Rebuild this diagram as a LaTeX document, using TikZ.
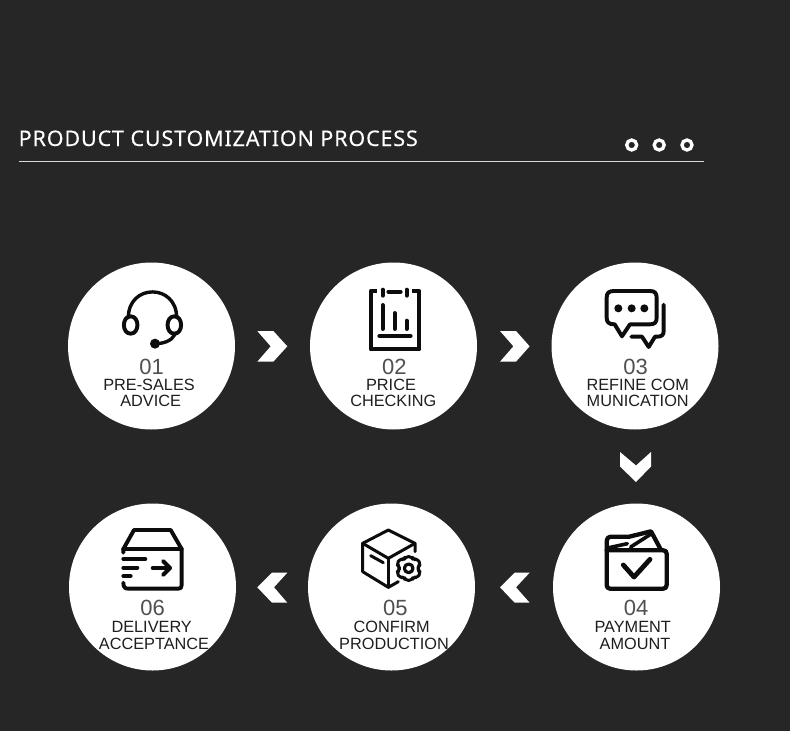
\documentclass[tikz,border=0pt]{standalone}
\usepackage{fontspec}
\setmainfont{Liberation Sans}
\newfontfamily\titlefont[LetterSpace=4,FakeBold=0.12]{Noto Sans}
\definecolor{bgc}{HTML}{262626}
\definecolor{ink}{HTML}{0C0C0C}
\definecolor{digit}{HTML}{505050}
\definecolor{labelc}{HTML}{1E1E1E}
\tikzset{
  disc/.style={circle,fill=white,draw=none,minimum size=167pt,inner sep=0pt},
  numtext/.style={anchor=base,font=\fontsize{22}{22}\selectfont,text=digit,inner sep=0pt},
  captext/.style={anchor=base,font=\fontsize{16.3}{16.3}\selectfont,text=labelc,inner sep=0pt},
  chev/.style={fill=white,draw=none},
  dotring/.style={circle,draw=white,line width=3.3pt,fill=none,minimum size=10pt,inner sep=0pt},
  icon/.style={draw=ink,line width=3.9pt,line cap=round,line join=round,fill=none},
  zoomed/.style={x=0.33333pt,y=-0.33333pt}
}
\begin{document}
\begin{tikzpicture}[x=1pt,y=-1pt]
\useasboundingbox (0,0) rectangle (790,731);
\fill[bgc] (0,0) rectangle (790,731);
% header
\node[anchor=base west,inner sep=0pt,text=white,font=\titlefont\fontsize{21.5}{21.5}\selectfont] (title) at (18.5,146) {PRODUCT CUSTOMIZATION PROCESS};
\coordinate (ruleL) at (19,161.7);
\coordinate (ruleR) at (704,161.7);
\draw[white!85!black,line width=1.3pt] (ruleL) -- (ruleR);
\node[dotring] (d1) at (631.7,145) {};
\node[dotring] (d2) at (659.2,145) {};
\node[dotring] (d3) at (687,145) {};
% discs
\node[disc] (c1) at (151.5,346) {};
\node[disc] (c2) at (393.5,346) {};
\node[disc] (c3) at (635,346) {};
\node[disc] (c4) at (636.5,587) {};
\node[disc] (c5) at (391.5,587) {};
\node[disc] (c6) at (152.5,587) {};
% chevrons
\fill[chev] (257.3,331) -- (273.3,331) -- (287.3,346.3) -- (273.3,361.7) -- (257.3,361.7) -- (270.7,346.3) -- cycle;
\fill[chev] (500,331) -- (516,331) -- (529.6,346.3) -- (516,361.7) -- (500,361.7) -- (513.4,346.3) -- cycle;
\fill[chev] (620,452) -- (636,465.5) -- (651,452) -- (651,466.5) -- (636,482) -- (620,466.5) -- cycle;
\fill[chev] (500,587.3) -- (514.7,572.7) -- (529.6,572.7) -- (516,587.3) -- (529.6,602.7) -- (514.7,602.7) -- cycle;
\fill[chev] (257.3,587.3) -- (272,572.7) -- (287.3,572.7) -- (274,587.3) -- (287.3,602.7) -- (272,602.7) -- cycle;
% labels
\node[numtext] (n1) at (151.7,374.5) {01};
\node[captext] (a1) at (149,390) {PRE-SALES};
\node[captext] (b1) at (150.7,406) {ADVICE};
\node[numtext] (n2) at (394.3,374.5) {02};
\node[captext] (a2) at (391,390) {PRICE};
\node[captext] (b2) at (393.3,406) {CHECKING};
\node[numtext] (n3) at (635.7,374.5) {03};
\node[captext] (a3) at (637.7,390) {REFINE COM};
\node[captext] (b3) at (637.7,406) {MUNICATION};
\node[numtext] (n4) at (636,615.5) {04};
\node[captext] (a4) at (632.7,632) {PAYMENT};
\node[captext] (b4) at (635,649.5) {AMOUNT};
\node[numtext] (n5) at (395.3,615.5) {05};
\node[captext] (a5) at (391.7,632) {CONFIRM};
\node[captext] (b5) at (394,649.5) {PRODUCTION};
\node[numtext] (n6) at (152.7,615.5) {06};
\node[captext] (a6) at (151.7,632) {DELIVERY};
\node[captext] (b6) at (154,649.5) {ACCEPTANCE};
% icon 01
\begin{scope}[shift={(60,255)},zoomed]
\draw[icon,line width=3.4pt] (205,188) .. controls (205,85) and (350,85) .. (350,188);
\draw[icon] (212,184) .. controls (185,184) and (185,236) .. (212,236) .. controls (239,236) and (239,184) .. (212,184) -- cycle;
\draw[icon] (343,184) .. controls (316,184) and (316,236) .. (343,236) .. controls (370,236) and (370,184) .. (343,184) -- cycle;
\draw[icon,line width=3.4pt] (345,238) .. controls (335,258) and (310,266) .. (285,266);
\fill[ink] (285,266) circle[radius=15];
\end{scope}
% icon 02
\begin{scope}[shift={(300,255)},zoomed]
\draw[icon,line cap=butt] (230,108) -- (212,108) -- (212,283) -- (358,283) -- (358,108) -- (337,108);
\draw[icon] (265,110) -- (302,110);
\draw[icon] (248,104) -- (248,122);
\draw[icon] (320,104) -- (320,122);
\draw[icon] (248,150) -- (248,222);
\draw[icon] (284,174) -- (284,222);
\draw[icon] (320,197) -- (320,222);
\draw[icon] (238,243) -- (332,243);
\end{scope}
% icon 03
\begin{scope}[shift={(540,255)},zoomed]
\draw[icon] (222,108) -- (330,108) .. controls (344,108) and (350,114) .. (350,128) -- (350,188) .. controls (350,202) and (344,208) .. (330,208) -- (270,208) -- (246,244) -- (224,208) .. controls (206,208) and (200,202) .. (200,188) -- (200,128) .. controls (200,114) and (206,108) .. (222,108) -- cycle;
\fill[ink] (235,160) circle[radius=12] (275,160) circle[radius=12] (313,160) circle[radius=12];
\draw[icon] (371,149) -- (371,228) .. controls (371,240) and (365,245) .. (352,245) -- (345,245) -- (326,276) -- (306,245) -- (274,245);
\end{scope}
% icon 04
\begin{scope}[shift={(540,500)},zoomed]
\draw[icon,line width=4.3pt] (200,151) -- (200,255) .. controls (200,262) and (204,266) .. (210,266) -- (370,266) .. controls (376,266) and (380,262) .. (380,255) -- (380,161) .. controls (380,155) and (376,151) .. (370,151) -- cycle;
\draw[icon,line width=4.3pt] (200,151) -- (200,126) .. controls (200,114) and (206,110) .. (216,110) -- (268,110) -- (333,94) -- (362,148);
\draw[icon,line width=3.6pt] (207,143) -- (262,131);
\draw[icon,line width=3.6pt] (272,141) -- (333,102);
\draw[icon,line width=4.8pt] (250,195) -- (282,231) -- (330,178);
\end{scope}
% icon 05
\begin{scope}[shift={(300,500)},zoomed]
\draw[icon,line width=3pt] (345,155) -- (345,130) -- (265,90) -- (188,130) -- (188,215) -- (265,262) -- (295,245);
\draw[icon,line width=3pt] (188,130) -- (265,175) -- (345,130);
\draw[icon,line width=3pt] (265,175) -- (265,262);
\draw[icon,line width=3pt] (212,167) -- (250,188);
\draw[icon,line width=3.2pt] (326,205) circle[radius=13];
\draw[icon,line width=3pt,rounded corners=3pt] (316,170) -- (336,170) -- (340,180) -- (352,176) -- (362,192) -- (354,200) -- (354,210) -- (362,218) -- (352,234) -- (340,230) -- (336,241) -- (316,241) -- (312,230) -- (300,234) -- (290,218) -- (298,210) -- (298,200) -- (290,192) -- (300,176) -- (312,180) -- cycle;
\end{scope}
% icon 06
\begin{scope}[shift={(60,500)},zoomed]
\draw[icon] (190,158) -- (190,147) -- (222,90) -- (332,90) -- (365,147) -- (365,255) .. controls (365,263) and (362,266) .. (355,266) -- (205,266) .. controls (195,266) and (190,262) .. (190,248);
\draw[icon] (190,147) -- (365,147);
\draw[icon] (190,177) -- (256,177);
\draw[icon] (190,203) -- (232,203);
\draw[icon] (190,228) -- (212,228);
\draw[icon] (278,204) -- (330,204);
\draw[icon] (309,183) -- (330,204) -- (309,225);
\end{scope}
\end{tikzpicture}
\end{document}
